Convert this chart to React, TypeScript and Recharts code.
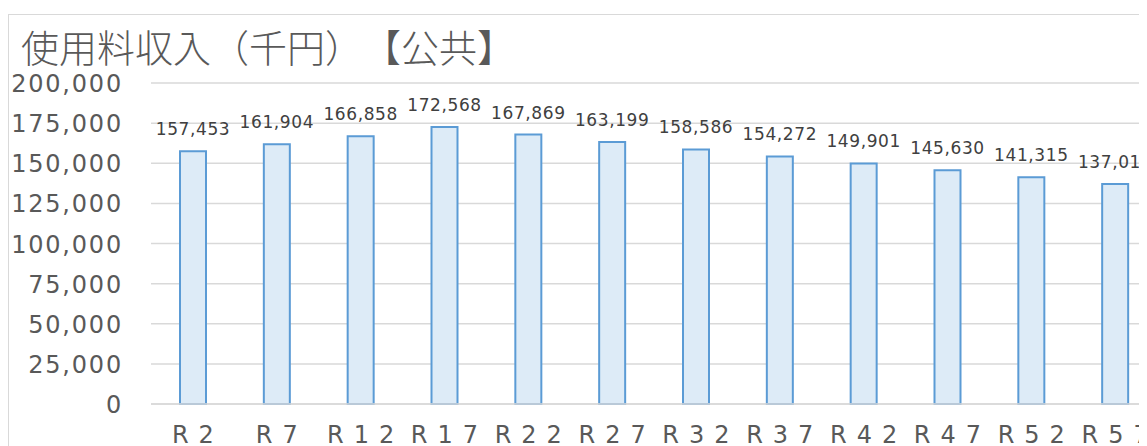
import { BarChart, Bar, XAxis, YAxis, CartesianGrid, LabelList } from "recharts";

const categories = ["R2", "R7", "R12", "R17", "R22", "R27", "R32", "R37", "R42", "R47", "R52", "R57"];
const revenue = [157453, 161904, 166858, 172568, 167869, 163199, 158586, 154272, 149901, 145630, 141315, 137016];
const yTicks = [0, 25000, 50000, 75000, 100000, 125000, 150000, 175000, 200000];

const data = categories.map((name, i) => ({ name, value: revenue[i] }));

const numFont = "'DejaVu Sans', sans-serif";
const fmt = (v: number) => v.toLocaleString("en-US");

const XTick = ({ x, y, payload }: any) => (
  <text
    x={x + 5}
    y={y + 31}
    textAnchor="middle"
    fontFamily={numFont}
    fontSize={24}
    letterSpacing={10}
    fill="#595959"
  >
    {payload.value}
  </text>
);

const YTick = ({ x, y, payload }: any) => (
  <text
    x={x - 20}
    y={y + 9}
    textAnchor="end"
    fontFamily={numFont}
    fontSize={24}
    letterSpacing={1.8}
    fill="#595959"
  >
    {fmt(payload.value)}
  </text>
);

const ValueLabel = ({ x, y, width, value }: any) => (
  <text
    x={x + width / 2}
    y={y - 16}
    textAnchor="middle"
    fontFamily={numFont}
    fontSize={17}
    letterSpacing={0.6}
    fill="#404040"
  >
    {fmt(value)}
  </text>
);

export default function App() {
  return (
    <div style={{ width: 1139, height: 438, overflow: "hidden", position: "relative", background: "#fff" }}>
      <div
        style={{
          position: "absolute",
          top: 6,
          left: 0,
          width: 1300,
          height: 600,
          border: "1px solid #d9d9d9",
          boxSizing: "border-box",
        }}
      />
      <div
        style={{
          position: "absolute",
          left: 13,
          top: 19,
          fontFamily: "'Noto Sans CJK JP', sans-serif",
          fontSize: 38,
          fontWeight: 300,
          lineHeight: 1,
          color: "#595959",
          whiteSpace: "nowrap",
          textSpacingTrim: "space-all",
        } as any}
      >
        使用料収入（千円）【公共】
      </div>
      <div style={{ position: "absolute", left: 0, top: 0 }}>
        <BarChart
          width={1149}
          height={456}
          data={data}
          margin={{ top: 75, right: 0, left: 0, bottom: 0 }}
        >
          <CartesianGrid vertical={false} stroke="#d9d9d9" strokeWidth={1.5} />
          <XAxis
            dataKey="name"
            height={60}
            interval={0}
            tickLine={false}
            axisLine={{ stroke: "#d9d9d9", strokeWidth: 1.5 }}
            tick={<XTick />}
          />
          <YAxis
            width={143}
            domain={[0, 200000]}
            ticks={yTicks}
            interval={0}
            tickLine={false}
            axisLine={false}
            tick={<YTick />}
          />
          <Bar
            dataKey="value"
            barSize={26}
            fill="#ddebf7"
            stroke="#5b9bd5"
            strokeWidth={2}
            isAnimationActive={false}
          >
            <LabelList dataKey="value" content={<ValueLabel />} />
          </Bar>
        </BarChart>
      </div>
    </div>
  );
}
